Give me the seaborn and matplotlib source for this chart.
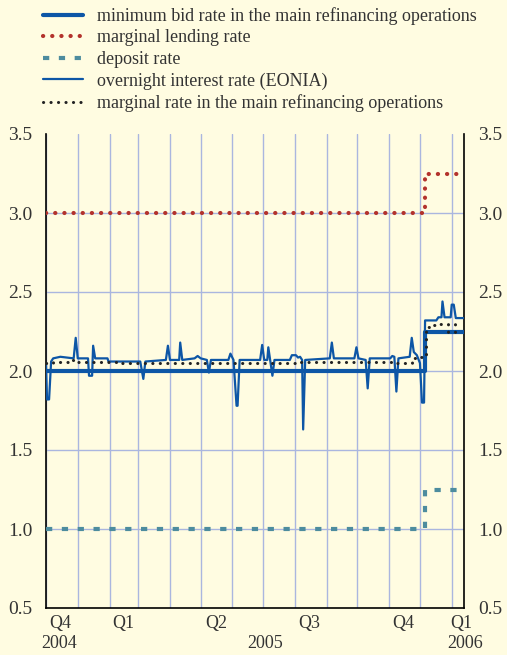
import pandas as pd
import seaborn as sns
import matplotlib.pyplot as plt
import matplotlib.dates as mdates
from matplotlib.lines import Line2D

# key ECB rates (step dates)
step_dates = ["2004-12-01", "2005-12-06", "2006-01-13"]
min_bid = [2.00, 2.25, 2.25]
lending = [3.00, 3.25, 3.25]
deposit = [1.00, 1.25, 1.25]

# EONIA
eonia_dates = [
    "2004-12-01", "2004-12-02", "2004-12-04", "2004-12-06", "2004-12-08", "2004-12-15",
    "2004-12-28", "2004-12-30", "2005-01-01", "2005-01-11", "2005-01-12", "2005-01-15",
    "2005-01-16", "2005-01-18", "2005-01-30", "2005-01-31", "2005-03-03", "2005-03-06",
    "2005-03-08", "2005-03-28", "2005-03-30", "2005-04-01", "2005-04-10", "2005-04-11",
    "2005-04-13", "2005-04-25", "2005-04-28", "2005-05-01", "2005-05-07", "2005-05-09",
    "2005-05-11", "2005-05-28", "2005-05-30", "2005-06-02", "2005-06-05", "2005-06-06",
    "2005-06-08", "2005-06-28", "2005-06-30", "2005-07-02", "2005-07-05", "2005-07-06",
    "2005-07-08", "2005-07-10", "2005-07-12", "2005-07-27", "2005-07-29", "2005-08-02",
    "2005-08-04", "2005-08-06", "2005-08-08", "2005-08-09", "2005-08-11", "2005-09-04",
    "2005-09-06", "2005-09-08", "2005-09-28", "2005-09-30", "2005-10-02", "2005-10-09",
    "2005-10-11", "2005-10-13", "2005-10-30", "2005-11-02", "2005-11-04", "2005-11-06",
    "2005-11-08", "2005-11-10", "2005-11-21", "2005-11-23", "2005-11-25", "2005-11-28",
    "2005-12-01", "2005-12-03", "2005-12-05", "2005-12-06", "2005-12-17", "2005-12-19",
    "2005-12-22", "2005-12-23", "2005-12-25", "2005-12-31", "2006-01-01", "2006-01-03",
    "2006-01-05", "2006-01-13",
]
eonia = [
    2.05, 1.82, 1.82, 2.06, 2.08, 2.09,
    2.08, 2.21, 2.08, 2.08, 1.97, 1.97,
    2.16, 2.08, 2.08, 2.06, 2.06, 1.95,
    2.06, 2.07, 2.16, 2.07, 2.07, 2.18,
    2.07, 2.08, 2.095, 2.08, 2.07, 1.99,
    2.07, 2.07, 2.11, 2.07, 1.78, 1.78,
    2.07, 2.07, 2.165, 2.07, 2.07, 2.15,
    2.06, 1.97, 2.07, 2.07, 2.10, 2.10,
    2.085, 2.09, 2.07, 1.63, 2.07, 2.08,
    2.18, 2.08, 2.08, 2.15, 2.08, 2.07,
    1.89, 2.08, 2.08, 2.08, 2.095, 2.09,
    1.87, 2.08, 2.09, 2.21, 2.12, 2.10,
    2.05, 1.80, 1.80, 2.32, 2.32, 2.34,
    2.34, 2.44, 2.34, 2.34, 2.42, 2.42,
    2.335, 2.335,
]

# marginal rate in the weekly main refinancing operations
mro_weeks = pd.date_range("2004-12-01", "2006-01-11", freq="7D")
marginal = [
    2.05, 2.06, 2.06, 2.07, 2.06,
    2.06, 2.06, 2.06, 2.06,
    2.06, 2.05, 2.05, 2.05,
    2.05, 2.05, 2.05, 2.05, 2.05,
    2.05, 2.05, 2.05, 2.05,
    2.05, 2.05, 2.05, 2.05,
    2.05, 2.05, 2.05, 2.05, 2.05,
    2.05, 2.05, 2.05, 2.05,
    2.06, 2.06, 2.06, 2.06, 2.06,
    2.06, 2.06, 2.06, 2.06,
    2.06, 2.06, 2.06, 2.06,
    2.06, 2.05, 2.05, 2.08, 2.09,
    2.28, 2.29, 2.30, 2.25,
    2.30, 2.30,
]

quarter_pos = ["2004-12-15", "2005-02-14", "2005-05-16", "2005-08-15", "2005-11-15", "2006-01-10"]
quarter_lab = ["Q4", "Q1", "Q2", "Q3", "Q4", "Q1"]
year_pos = ["2004-12-14", "2005-07-03", "2006-01-14"]
year_lab = ["2004", "2005", "2006"]

labels = [
    "minimum bid rate in the main refinancing operations",
    "marginal lending rate",
    "deposit rate",
    "overnight interest rate (EONIA)",
    "marginal rate in the main refinancing operations",
]

bg = "#FFFCE1"
blue = "#0D56A6"
red = "#B3322C"
teal = "#4D8C9E"
dark = "#222222"
grid_c = "#AAB6DF"
txt = "#333333"

sns.set_style("white")
plt.rcParams["font.family"] = ["Liberation Serif", "DejaVu Serif"]
plt.rcParams["text.color"] = txt

steps = pd.DataFrame({"date": pd.to_datetime(step_dates), "min_bid": min_bid,
                      "lending": lending, "deposit": deposit})
eo = pd.DataFrame({"date": pd.to_datetime(eonia_dates), "rate": eonia})
mr = pd.DataFrame({"date": mro_weeks, "rate": marginal})

fig = plt.figure(figsize=(5.07, 6.55), dpi=100, facecolor=bg)
ax = fig.add_axes([46 / 507, 47 / 655, 418 / 507, 474 / 655])
ax.set_facecolor(bg)

dot = dict(dash_capstyle="round", solid_capstyle="round")
sns.lineplot(data=steps, x="date", y="min_bid", ax=ax, color=blue, lw=3.0,
             drawstyle="steps-post", estimator=None, zorder=3)
sns.lineplot(data=steps, x="date", y="deposit", ax=ax, color=teal, lw=3.0,
             drawstyle="steps-post", estimator=None, linestyle=(0, (1.5, 2.3)), zorder=3)
sns.lineplot(data=steps, x="date", y="lending", ax=ax, color=red, lw=3.0,
             drawstyle="steps-post", estimator=None, linestyle=(0, (0.05, 2.15)), zorder=3, **dot)
sns.lineplot(data=eo, x="date", y="rate", ax=ax, color=blue, lw=1.6,
             estimator=None, sort=False, zorder=4)
sns.lineplot(data=mr, x="date", y="rate", ax=ax, color=dark, lw=2.2,
             drawstyle="steps-post", estimator=None, linestyle=(0, (0.05, 2.4)), zorder=5, **dot)

ax.set_xlim(pd.Timestamp("2004-12-01"), pd.Timestamp("2006-01-13"))
ax.set_ylim(0.5, 3.5)
ax.set_yticks([0.5, 1.0, 1.5, 2.0, 2.5, 3.0, 3.5])
ax.set_yticklabels(["0.5", "1.0", "1.5", "2.0", "2.5", "3.0", "3.5"])
ax.set_xlabel("")
ax.set_ylabel("")

ax.xaxis.set_minor_locator(mdates.MonthLocator())
ax.set_xticks(pd.to_datetime(quarter_pos))
ax.set_xticklabels(quarter_lab)
ax.tick_params(axis="x", which="major", length=0, pad=5, labelsize=13, colors=txt)
ax.tick_params(axis="x", which="minor", length=4, width=1, direction="out", color="black")
ax.tick_params(axis="y", length=0, labelsize=14, labelleft=True, labelright=True,
               pad=10, colors=txt)

ax.grid(True, axis="x", which="minor", color=grid_c, lw=1)
ax.grid(True, axis="y", which="major", color=grid_c, lw=1)
ax.grid(False, axis="x", which="major")
ax.yaxis.get_gridlines()[-1].set_visible(False)
ax.yaxis.get_gridlines()[0].set_visible(False)

for s in ["left", "right", "bottom"]:
    ax.spines[s].set_color("black")
    ax.spines[s].set_linewidth(1.2)
ax.spines["top"].set_visible(False)

for pos, lab in zip(year_pos, year_lab):
    ax.text(pd.Timestamp(pos), -0.056, lab, transform=ax.get_xaxis_transform(),
            ha="center", va="top", fontsize=13, color=txt)

handles = [
    Line2D([], [], color=blue, lw=3.0),
    Line2D([], [], color=red, lw=3.0, linestyle=(0, (0.05, 2.15)), **dot),
    Line2D([], [], color=teal, lw=3.0, linestyle=(0, (1.5, 2.3))),
    Line2D([], [], color=blue, lw=1.6),
    Line2D([], [], color=dark, lw=2.2, linestyle=(0, (0.05, 2.4)), **dot),
]
fig.legend(handles, labels, loc="upper left", bbox_to_anchor=(43 / 507, 1 - 7 / 655),
           frameon=False, fontsize=13, handlelength=2.2, handletextpad=0.8,
           labelspacing=0.25, borderpad=0, borderaxespad=0)

fig.savefig("out.png", dpi=100, facecolor=bg)
